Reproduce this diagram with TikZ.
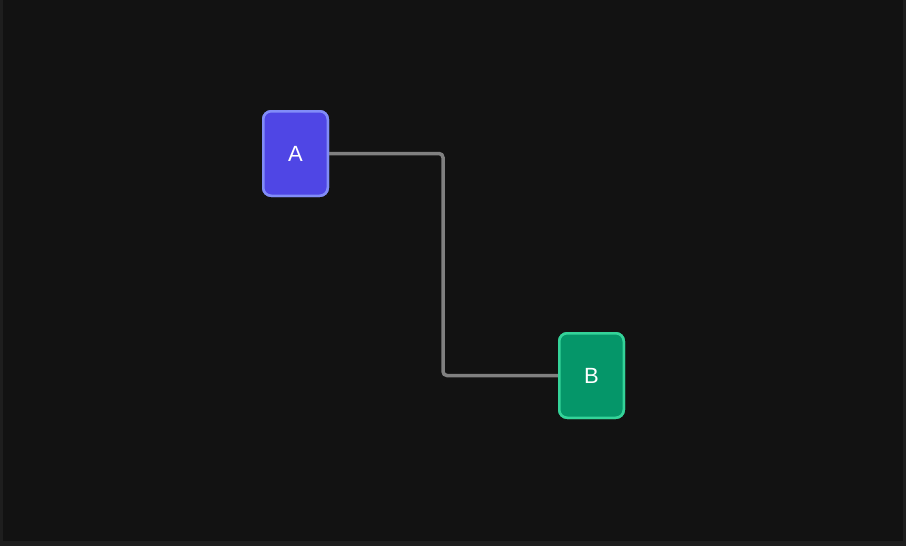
\documentclass[tikz,border=0pt]{standalone}
\usepackage{fontspec}
\setmainfont{Liberation Sans}
\definecolor{bgouter}{HTML}{1E1E1E}
\definecolor{bginner}{HTML}{121212}
\definecolor{afill}{HTML}{4F46E5}
\definecolor{aline}{HTML}{818CF8}
\definecolor{bfill}{HTML}{059669}
\definecolor{bline}{HTML}{34D399}
\definecolor{wire}{HTML}{808080}
\tikzset{
  box/.style={rounded corners=8pt, line width=2.5pt, minimum width=64.5pt, minimum height=84.5pt,
    inner sep=0pt, text=white, font=\fontsize{22}{26}\selectfont},
  abox/.style={box, fill=afill, draw=aline},
  bbox/.style={box, fill=bfill, draw=bline},
  wirestyle/.style={draw=wire, line width=3.5pt, rounded corners=4pt}
}
\begin{document}
\begin{tikzpicture}[x=1pt,y=-1pt]
\fill[bgouter] (0,0) rectangle (906,546);
\fill[bginner] (3,0) rectangle (903,541);
\useasboundingbox (0,0) rectangle (906,546);
\node[abox] (a) at (295.5,153.5) {A};
\node[bbox] (b) at (591.5,375.5) {B};
\coordinate (m) at (443,0);
\draw[wirestyle] (a.east) -- (a.east -| m) -- (b.west -| m) -- (b.west);
\node[abox] at (a) {A};
\node[bbox] at (b) {B};
\end{tikzpicture}
\end{document}
